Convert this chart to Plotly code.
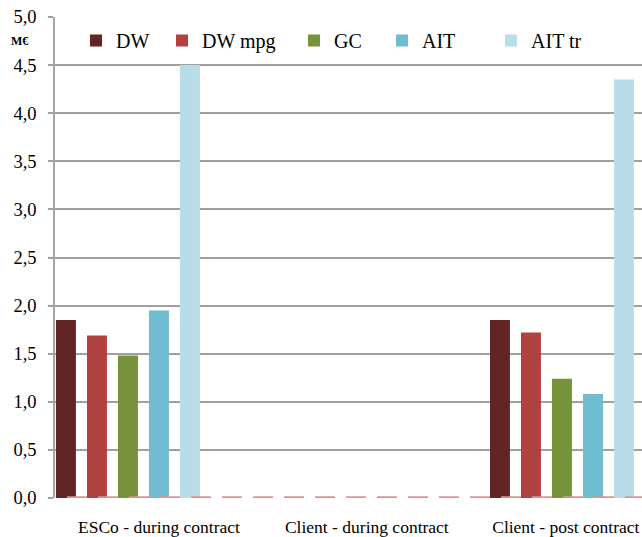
import plotly.graph_objects as go

categories = ["ESCo - during contract", "Client - during contract", "Client - post contract"]
series_names = ["DW", "DW mpg", "GC", "AIT", "AIT tr"]
dw = [1.85, 0.0, 1.85]
dw_mpg = [1.69, 0.0, 1.72]
gc = [1.48, 0.0, 1.24]
ait = [1.95, 0.0, 1.08]
ait_tr = [4.5, 0.0, 4.35]
y_ticks = [0.0, 0.5, 1.0, 1.5, 2.0, 2.5, 3.0, 3.5, 4.0, 4.5, 5.0]

series_values = [dw, dw_mpg, gc, ait, ait_tr]
colors = ["#632523", "#B04340", "#779339", "#70BCD1", "#B8DDE8"]
legend_ids = ["legend", "legend2", "legend3", "legend4", "legend5"]
legend_x = [0.0358, 0.1823, 0.4072, 0.5571, 0.7428]

x_idx = list(range(len(categories)))
slot = 1 / 7
bar_w = 0.092

fig = go.Figure()
for i, (name, vals, col) in enumerate(zip(series_names, series_values, colors)):
    fig.add_trace(go.Bar(
        x=x_idx, y=vals, name=name, legend=legend_ids[i],
        marker=dict(color=col, line=dict(width=0)),
        width=bar_w,
        offset=-0.5 + i * slot + (slot - bar_w) / 2,
    ))

fig.add_shape(type="line", xref="paper", yref="y", x0=0.0204, x1=1.0, y0=0.008, y1=0.008,
              line=dict(color="#D99694", width=2, dash="20px,11px"), layer="above")

fig.add_annotation(text="<b>M€</b>", xref="paper", yref="paper", x=-0.060, y=0.951,
                   xanchor="center", yanchor="middle", showarrow=False,
                   font=dict(family="Liberation Serif", size=12, color="black"))

legend_common = dict(orientation="h", y=0.9917, xanchor="left", yanchor="top",
                     font=dict(size=20, family="Liberation Serif", color="black"),
                     bgcolor="rgba(0,0,0,0)")
legends = {lid: dict(x=lx, **legend_common) for lid, lx in zip(legend_ids, legend_x)}

fig.update_layout(
    width=642, height=537,
    margin=dict(l=55, r=0, t=17, b=37),
    paper_bgcolor="white", plot_bgcolor="white",
    separators=",.",
    font=dict(family="Liberation Serif", color="black"),
    barmode="overlay",
    showlegend=True,
    xaxis=dict(range=[-0.479, 2.226], tickvals=[0, 0.958, 1.875], ticktext=categories,
               showgrid=False, zeroline=False, showline=False, ticks="",
               ticklabeloverflow="allow",
               tickfont=dict(size=17.5, family="Liberation Serif"), ticklabelstandoff=16),
    yaxis=dict(range=[0, 5.0], tickvals=y_ticks, tickformat=".1f",
               showgrid=True, gridcolor="#A0A0A0", gridwidth=1.5,
               zeroline=False, showline=True, linecolor="#A6A6A6", linewidth=1.5,
               ticks="outside", ticklen=5, tickcolor="#A0A0A0", tickwidth=1.5,
               ticklabeloverflow="allow",
               tickfont=dict(size=18.5, family="Liberation Serif"), ticklabelstandoff=8),
    **legends,
)

fig.write_html("out.html", config={"displayModeBar": False},
               post_script="document.body.style.margin='0';document.body.style.overflow='hidden';")
